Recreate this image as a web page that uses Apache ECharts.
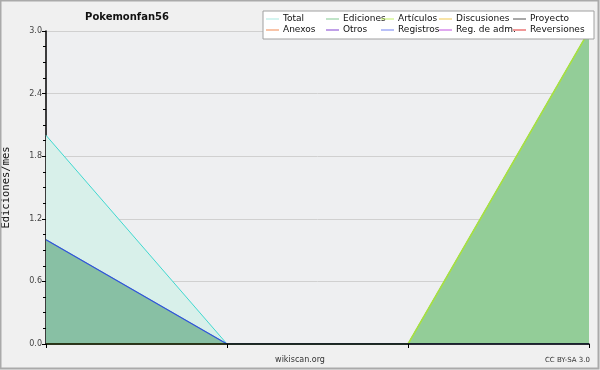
<!DOCTYPE html>
<html>
<head>
<meta charset="utf-8">
<script src="https://cdn.jsdelivr.net/npm/echarts@6/dist/echarts.min.js"></script>
<style>
  html, body { margin: 0; padding: 0; background: #f0f0f0; }
  #main { width: 600px; height: 370px; }
</style>
</head>
<body>
<div id="main"></div>
<script>
// meses (sin etiquetas en el eje)
var months = ['m1', 'm2', 'm3', 'm4'];
var total = [2, 0, 0, 3];
var ediciones = [1, 0, 0, 3];
var articulos = [0, 0, 0, 3];
var registros = [1, 0, 0, 0];
var yTicks = [0, 0.6, 1.2, 1.8, 2.4, 3.0];

var legendNames = [
  ['Total', 'Anexos'],
  ['Ediciones', 'Otros'],
  ['Artículos', 'Registros'],
  ['Discusiones', 'Reg. de adm.'],
  ['Proyecto', 'Reversiones']
];
var legendLeft = [266, 326, 381, 439, 513];
var colors = {
  'Total': '#40d8d0',
  'Ediciones': '#80c890',
  'Artículos': '#a8e040',
  'Discusiones': '#f0c850',
  'Proyecto': '#505050',
  'Anexos': '#f08850',
  'Otros': '#8040d0',
  'Registros': '#7080f0',
  'Reg. de adm.': '#c050e0',
  'Reversiones': '#e03030'
};
var legendColors = {
  'Total': '#a8e8e0',
  'Ediciones': '#80c890',
  'Artículos': '#c0f060'
};

var chart = echarts.init(document.getElementById('main'), null, { renderer: 'canvas' });

var font = 'DejaVu Sans';
var series = [
  {
    name: 'Total', type: 'line', data: total, symbol: 'none', z: 2,
    lineStyle: { color: colors['Total'], width: 1 },
    itemStyle: { color: legendColors['Total'] },
    areaStyle: { color: '#d8f0ea', opacity: 1 }
  },
  {
    name: 'Ediciones', type: 'line', data: ediciones, symbol: 'none', z: 3,
    lineStyle: { color: '#80c890', width: 1 },
    itemStyle: { color: legendColors['Ediciones'] },
    areaStyle: { color: '#88c0a4', opacity: 1 }
  },
  {
    name: 'Artículos', type: 'line', data: articulos, symbol: 'none', z: 4,
    lineStyle: { color: colors['Artículos'], width: 1.5 },
    itemStyle: { color: legendColors['Artículos'] },
    areaStyle: { color: '#93cd98', opacity: 1 }
  },
  {
    name: 'Registros', type: 'line', data: registros, symbol: 'none', z: 5,
    lineStyle: { color: '#3050e0', width: 1.2 },
    itemStyle: { color: colors['Registros'] }
  }
];
['Discusiones', 'Proyecto', 'Anexos', 'Otros', 'Reg. de adm.', 'Reversiones'].forEach(function (n) {
  series.push({ name: n, type: 'line', data: [], symbol: 'none',
    lineStyle: { color: colors[n], width: 1 }, itemStyle: { color: colors[n] } });
});

var legends = legendNames.map(function (col, i) {
  return {
    data: col.map(function (n) { return { name: n, icon: 'rect' }; }),
    orient: 'vertical',
    left: legendLeft[i],
    top: 14,
    z: 50,
    padding: 0,
    itemGap: 1,
    itemWidth: 13,
    itemHeight: 1,
    selectedMode: false,
    textStyle: { fontFamily: font, fontSize: 9, color: '#111', padding: [0, 0, 0, -1], lineHeight: 10 }
  };
});

chart.setOption({
  animation: false,
  backgroundColor: '#f0f0f0',
  title: {
    text: 'Pokemonfan56',
    left: 127, top: 12, textAlign: 'center', padding: 0,
    textStyle: { fontFamily: font, fontSize: 10, fontWeight: 'bold', color: '#111' }
  },
  legend: legends,
  grid: {
    left: 46, right: 11, top: 31, bottom: 26, show: true, z: 0,
    backgroundColor: '#eeeff1', borderWidth: 0, outerBoundsMode: 'none', containLabel: false
  },
  xAxis: {
    type: 'category', data: months, boundaryGap: false, z: 10,
    axisLine: { lineStyle: { color: '#000', width: 1.5 } },
    axisTick: { show: true, length: 4, lineStyle: { color: '#000' } },
    axisLabel: { show: false },
    splitLine: { show: false }
  },
  yAxis: {
    type: 'value', min: 0, max: 3, interval: 0.6, z: 1,
    name: 'Ediciones/mes', nameLocation: 'middle', nameGap: 34,
    nameTextStyle: { fontFamily: 'DejaVu Sans Mono', fontSize: 10.5, color: '#111' },
    axisLine: { show: true, lineStyle: { color: '#000', width: 1.5 } },
    axisTick: { show: true, length: 4, lineStyle: { color: '#000' } },
    minorTick: { show: true, splitNumber: 4, length: 3, lineStyle: { color: '#000' } },
    axisLabel: {
      fontFamily: font, fontSize: 8, color: '#444', margin: 4,
      formatter: function (v) { return v.toFixed(1); }
    },
    splitLine: { show: true, lineStyle: { color: '#d0d0d0', width: 1 } }
  },
  series: series,
  graphic: [
    {
      type: 'rect', z: 40, silent: true,
      shape: { x: 263, y: 11, width: 331, height: 28 },
      style: { fill: '#ffffff', stroke: '#a0a0a0', lineWidth: 1 }
    },
    {
      type: 'text', left: 'center', top: 356,
      style: { text: 'wikiscan.org', font: '8px DejaVu Sans', fill: '#333' }
    },
    {
      type: 'text', right: 10, top: 357,
      style: { text: 'CC BY-SA 3.0', font: '7px DejaVu Sans', fill: '#333' }
    },
    {
      type: 'rect', silent: true, z: 100,
      shape: { x: 0.5, y: 0.5, width: 598, height: 368 },
      style: { fill: null, stroke: '#aaaaaa', lineWidth: 2 }
    }
  ]
});
</script>
</body>
</html>
